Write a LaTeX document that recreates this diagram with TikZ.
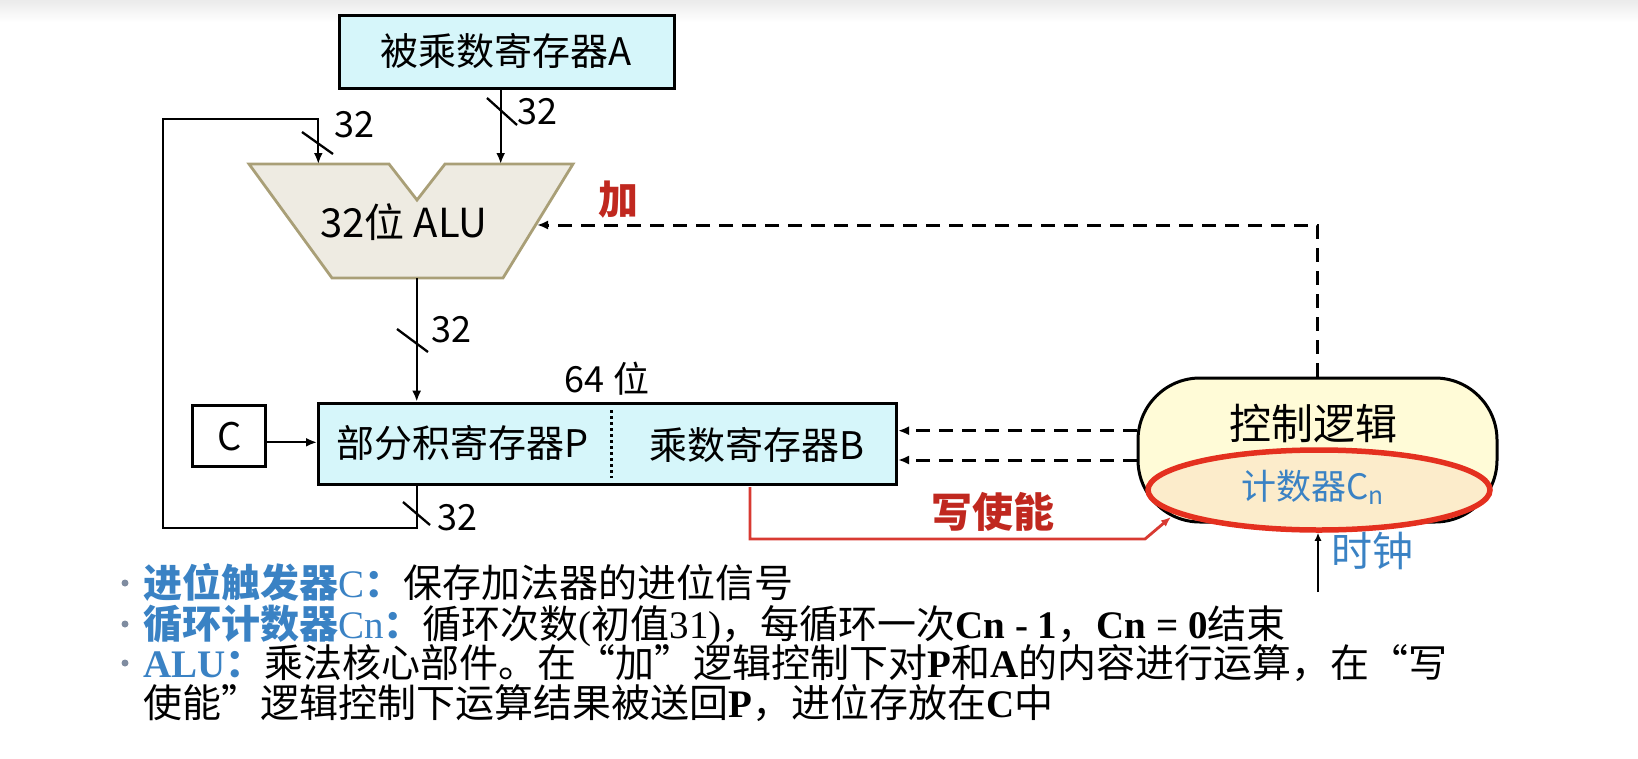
\documentclass[tikz,border=0pt]{standalone}
\usepackage{fontspec}
\setmainfont{Noto Sans CJK SC}
\newfontfamily\tnr{Liberation Serif}
\usetikzlibrary{arrows.meta,shapes.geometric,calc}
\definecolor{regfill}{HTML}{D6F6FA}
\definecolor{alufill}{HTML}{EEEBE2}
\definecolor{aluedge}{HTML}{A99F77}
\definecolor{ctrlfill}{HTML}{FFFBD7}
\definecolor{cntfill}{HTML}{FCECCB}
\definecolor{ringred}{HTML}{E4301F}
\definecolor{wered}{HTML}{D83A32}
\definecolor{lblred}{HTML}{C0281F}
\definecolor{txtblue}{HTML}{3A82C4}
\definecolor{bulgray}{HTML}{7F8CA0}
\newcommand{\setfs}[1]{\fontsize{#1}{#1}\selectfont}
\begin{document}
\begin{tikzpicture}[x=1pt,y=-1pt,
  regbox/.style={draw=black, line width=3pt, fill=regfill, inner sep=0pt},
  wire/.style={draw=black, line width=2.3pt},
  arr/.style={-{Latex[length=11pt,width=9pt]}},
  ctl/.style={draw=black, line width=3pt, dash pattern=on 14pt off 9pt},
  buslbl/.style={font=\setfs{36}, inner sep=0pt},
  slash/.style={draw=black, line width=2.3pt},
  bultxt/.style={anchor=base west, inner sep=0pt, font=\setfs{39}},
  bulmark/.style={circle, fill=bulgray, inner sep=0pt, minimum size=7pt}
]
\useasboundingbox (0,0) rectangle (1638,758);
\fill[top color=black!8, bottom color=white] (0,0) rectangle (1638,22);

% register A
\node[regbox, minimum width=335pt, minimum height=73pt, font=\setfs{38}] (A) at (506.5,51.5) {被乘数寄存器A};

% ALU
\filldraw[fill=alufill, draw=aluedge, line width=2.8pt, line join=miter]
  (249,164) -- (389,164) -- (417,200) -- (445,164) -- (573,164) -- (503,278) -- (332,278) -- cycle;
\node[font=\setfs{40}, inner sep=0pt] (ALU) at (404,222) {32位 ALU};
\coordinate (aluInL) at (318.3,164);
\coordinate (aluInR) at (500.7,164);
\coordinate (aluOut) at (416.7,278);
\coordinate (aluCtl) at (537,225);

% P/B register
\node[regbox, minimum width=578pt, minimum height=81pt] (PB) at (607.5,443.7) {};
\node[font=\setfs{38}, inner sep=0pt] (Ptext) at (463,443) {部分积寄存器P};
\node[font=\setfs{38}, inner sep=0pt] (Btext) at (757,445) {乘数寄存器B};
\draw[line width=2.8pt, dash pattern=on 2.8pt off 3.2pt] (611.7,410) -- (611.7,478);
\node[font=\setfs{36}, inner sep=0pt] (w64) at (607,379) {64 位};

% C flip-flop
\node[draw=black, line width=3pt, minimum width=73pt, minimum height=61pt, font=\setfs{38}, inner sep=0pt] (C) at (229.3,436.3) {C};

% connectors
\draw[wire,arr] (A.south -| aluInR) -- (aluInR);
\draw[wire,arr] (aluOut) -- (aluOut |- PB.north);
\draw[wire,arr] ([yshift=-6pt]C.east) -- ([yshift=-6pt]C.east -| PB.west);
\coordinate (loopB) at (416.7,528.3);
\draw[wire,arr] (PB.south -| aluOut) -- (loopB) -- (162.7,528.3) -- (162.7,119.3) -- (318.3,119.3) -- (aluInL);

% bus width marks
\draw[slash] (487,98) -- (517,125);
\node[buslbl] (n1) at (537,112) {32};
\draw[slash] (302,132) -- (333,154);
\node[buslbl] (n2) at (354,125) {32};
\draw[slash] (397,329) -- (428,352);
\node[buslbl] (n3) at (451,330) {32};
\draw[slash] (403,502) -- (430,525);
\node[buslbl] (n4) at (457,518) {32};

% control logic
\node[draw=black, line width=3pt, fill=ctrlfill, rounded corners=62pt, minimum width=359pt, minimum height=144pt] (ctrl) at (1317.5,450) {};
\node[font=\setfs{42}, inner sep=0pt] (ctrltext) at (1313,424) {控制逻辑};
\node[ellipse, draw=ringred, line width=5.5pt, fill=cntfill, minimum width=342pt, minimum height=80pt, inner sep=0pt] (cnt) at (1319,490) {};
\node[font=\setfs{35}, text=txtblue, inner sep=0pt] (cnttext) at (1313,487) {计数器C\textsubscript{n}};

% dashed control lines
\draw[ctl,arr] (ctrl.north) -- (ctrl.north |- aluCtl) -- (aluCtl);
\node[font=\bfseries\setfs{40}, text=lblred, inner sep=0pt] (jia) at (618,200) {加};
\coordinate (d1) at (0,430.7);
\coordinate (d2) at (0,460);
\draw[ctl,arr] (ctrl.west |- d1) -- (PB.east |- d1);
\draw[ctl,arr] (ctrl.west |- d2) -- (PB.east |- d2);

% write enable
\coordinate (we0) at (750,487);
\coordinate (weTip) at (1171,517);
\draw[line width=2.8pt, wered, -{Latex[length=10pt,width=8pt]}] (we0) |- (1145,539) -- (weTip);
\node[font=\bfseries\setfs{41}, text=lblred, inner sep=0pt] (wetext) at (993,512) {写使能};

% clock
\coordinate (clk) at (1318,592);
\draw[wire,-{Latex[length=8pt,width=7pt]}] (clk) -- (clk |- cnt.south);
\node[font=\setfs{41}, text=txtblue, inner sep=0pt] (clktext) at (1372,551) {时钟};

% bullet text
\node[bulmark] (b1) at (125,583) {};
\node[bulmark] (b2) at (125,624) {};
\node[bulmark] (b3) at (125,663) {};
\node[bultxt] (t1) at (143,597) {\textcolor{txtblue}{\bfseries 进位触发器{\tnr\mdseries C}：}保存加法器的进位信号};
\node[bultxt] (t2) at (143,638) {\textcolor{txtblue}{\bfseries 循环计数器{\tnr\mdseries Cn}：}循环次数{\tnr(}初值{\tnr 31)}，每循环一次{\tnr\bfseries Cn - 1}，{\tnr\bfseries Cn = 0}结束};
\node[bultxt] (t3) at (143,677) {\textcolor{txtblue}{{\tnr\bfseries ALU}\bfseries ：}乘法核心部件。在“加”逻辑控制下对{\tnr\bfseries P}和{\tnr\bfseries A}的内容进行运算，在“写};
\node[bultxt] (t4) at (143,717) {使能”逻辑控制下运算结果被送回{\tnr\bfseries P}，进位存放在{\tnr\bfseries C}中};
\end{tikzpicture}
\end{document}
